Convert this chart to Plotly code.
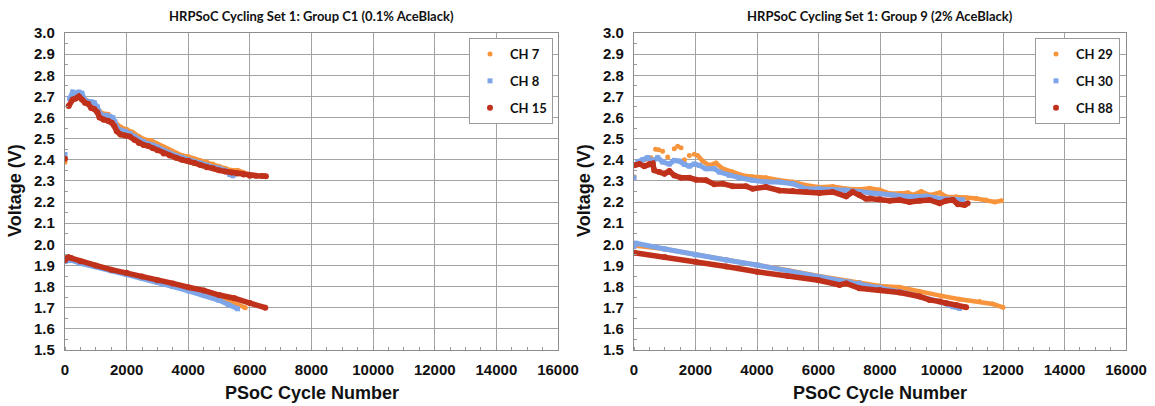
import plotly.graph_objects as go

# ---------------- Group C1 (0.1% AceBlack) ----------------
# End-of-charge voltage branch
c1_ch7_top_cyc = [0, 200, 400, 600, 800, 1000, 1200, 1400, 1600, 1800, 2000, 2200, 2400, 2600, 2800,
                  3000, 3200, 3400, 3600, 3800, 4000, 4200, 4400, 4600, 4800, 5000, 5200, 5400, 5600, 5800]
c1_ch7_top_v = [2.388, 2.69, 2.705, 2.69, 2.675, 2.65, 2.62, 2.615, 2.58, 2.555, 2.545, 2.53, 2.51, 2.495, 2.49,
                2.475, 2.46, 2.445, 2.43, 2.42, 2.415, 2.405, 2.395, 2.39, 2.38, 2.37, 2.36, 2.35, 2.35, 2.34]
c1_ch8_top_cyc = [0, 150, 250, 350, 450, 550, 650, 750, 850, 950, 1050, 1150, 1250, 1350, 1450, 1550, 1620,
                  1700, 1800, 1950, 2100, 2250, 2400, 2550, 2700, 2850, 3000, 3200, 3400, 3600, 3800, 4000,
                  4200, 4400, 4600, 4800, 5000, 5200, 5350, 5450, 5550]
c1_ch8_top_v = [2.425, 2.69, 2.72, 2.715, 2.72, 2.715, 2.68, 2.675, 2.675, 2.67, 2.65, 2.615, 2.61, 2.61, 2.605,
                2.60, 2.58, 2.55, 2.54, 2.535, 2.525, 2.51, 2.495, 2.485, 2.475, 2.47, 2.46, 2.445, 2.43, 2.42,
                2.41, 2.40, 2.39, 2.385, 2.375, 2.365, 2.36, 2.35, 2.33, 2.325, 2.335]
c1_ch15_top_cyc = [0, 120, 250, 350, 450, 550, 650, 750, 850, 950, 1050, 1120, 1250, 1400, 1520, 1600, 1680,
                   1800, 1950, 2100, 2250, 2400, 2550, 2700, 2850, 3000, 3200, 3400, 3600, 3800, 4000, 4200,
                   4400, 4600, 4800, 5000, 5200, 5400, 5600, 5800, 6000, 6200, 6400, 6520]
c1_ch15_top_v = [2.405, 2.655, 2.685, 2.69, 2.70, 2.685, 2.67, 2.665, 2.645, 2.64, 2.625, 2.60, 2.59, 2.585,
                 2.575, 2.56, 2.535, 2.52, 2.515, 2.51, 2.495, 2.48, 2.47, 2.465, 2.455, 2.445, 2.43, 2.42,
                 2.41, 2.40, 2.395, 2.385, 2.375, 2.365, 2.36, 2.35, 2.345, 2.34, 2.335, 2.33, 2.325, 2.325,
                 2.323, 2.322]
# End-of-discharge voltage branch
c1_ch7_bot_cyc = [0, 200, 500, 1000, 1500, 2000, 2500, 3000, 3500, 4000, 4500, 5000, 5400, 5850]
c1_ch7_bot_v = [1.93, 1.93, 1.915, 1.898, 1.878, 1.86, 1.843, 1.825, 1.805, 1.787, 1.768, 1.748, 1.73, 1.70]
c1_ch8_bot_cyc = [0, 200, 500, 1000, 1500, 2000, 2500, 3000, 3500, 4000, 4500, 5000, 5300, 5600]
c1_ch8_bot_v = [1.92, 1.925, 1.91, 1.895, 1.875, 1.857, 1.84, 1.82, 1.80, 1.78, 1.76, 1.735, 1.715, 1.695]
c1_ch15_bot_cyc = [0, 100, 200, 500, 1000, 1500, 2000, 2500, 3000, 3500, 4000, 4500, 5000, 5500, 6000, 6500]
c1_ch15_bot_v = [1.925, 1.94, 1.935, 1.92, 1.90, 1.88, 1.865, 1.848, 1.83, 1.815, 1.797, 1.782, 1.76, 1.745,
                 1.722, 1.70]

# ---------------- Group 9 (2% AceBlack) ----------------
g9_ch29_top_cyc = [0, 150, 350, 550, 700, 800, 930, 1095, 1310, 1420, 1530, 1640, 1800, 1960, 2070, 2233,
                   2450, 2665, 2885, 3210, 3535, 3860, 4290, 4725, 5160, 5595, 6030, 6460, 6900, 7330, 7660,
                   7990, 8320, 8640, 8910, 9070, 9340, 9610, 9940, 10150, 10480, 10800, 11130, 11450, 11730,
                   11950]
g9_ch29_top_v = [2.32, 2.39, 2.40, 2.41, 2.45, 2.448, 2.44, 2.413, 2.452, 2.464, 2.457, 2.40, 2.42, 2.426,
                 2.42, 2.394, 2.374, 2.385, 2.358, 2.342, 2.326, 2.32, 2.315, 2.303, 2.295, 2.28, 2.27, 2.274,
                 2.263, 2.26, 2.265, 2.257, 2.24, 2.24, 2.244, 2.233, 2.25, 2.233, 2.244, 2.225, 2.225, 2.222,
                 2.217, 2.21, 2.20, 2.206]
g9_ch30_top_cyc = [0, 120, 280, 445, 610, 770, 930, 1150, 1310, 1475, 1640, 1800, 1960, 2125, 2340, 2610,
                   2775, 3100, 3425, 3860, 4290, 4725, 5160, 5595, 6030, 6460, 6900, 7330, 7760, 7990, 8420,
                   8960, 9500, 9940, 10370, 10690]
g9_ch30_top_v = [2.315, 2.39, 2.40, 2.41, 2.394, 2.41, 2.39, 2.38, 2.397, 2.394, 2.378, 2.37, 2.38, 2.374,
                 2.358, 2.358, 2.342, 2.326, 2.315, 2.303, 2.295, 2.295, 2.287, 2.263, 2.263, 2.26, 2.256,
                 2.25, 2.24, 2.238, 2.233, 2.225, 2.228, 2.217, 2.213, 2.21]
g9_ch88_top_cyc = [10, 175, 335, 500, 610, 660, 825, 990, 1150, 1310, 1530, 1800, 2020, 2340, 2610, 2885,
                   3210, 3640, 3860, 4290, 4725, 5160, 5595, 6030, 6460, 6900, 7110, 7330, 7545, 7660, 7990,
                   8320, 8640, 8960, 9290, 9610, 9940, 10150, 10370, 10530, 10750, 10850]
g9_ch88_top_v = [2.374, 2.38, 2.37, 2.38, 2.382, 2.35, 2.342, 2.334, 2.347, 2.326, 2.315, 2.315, 2.306,
                 2.303, 2.284, 2.287, 2.275, 2.275, 2.263, 2.271, 2.255, 2.252, 2.248, 2.243, 2.248, 2.227,
                 2.248, 2.233, 2.216, 2.217, 2.213, 2.206, 2.21, 2.20, 2.206, 2.21, 2.194, 2.206, 2.21, 2.19,
                 2.186, 2.194]
g9_ch29_bot_cyc = [0, 1000, 2000, 3000, 4000, 5000, 6000, 7000, 7330, 7990, 8640, 9290, 10000, 10590, 11240,
                   11670, 12000]
g9_ch29_bot_v = [1.995, 1.978, 1.952, 1.928, 1.904, 1.877, 1.85, 1.825, 1.819, 1.803, 1.797, 1.776, 1.756,
                 1.74, 1.729, 1.718, 1.702]
g9_ch30_bot_cyc = [0, 70, 1000, 2000, 3000, 4000, 5000, 6000, 7000, 7330, 7990, 8640, 9290, 9940, 10370,
                   10590]
g9_ch30_bot_v = [1.99, 2.005, 1.978, 1.95, 1.926, 1.902, 1.875, 1.847, 1.822, 1.816, 1.797, 1.776, 1.753,
                 1.729, 1.705, 1.697]
g9_ch88_bot_cyc = [15, 1000, 2000, 3000, 4000, 5000, 6000, 6685, 6900, 7330, 7990, 8640, 9290, 9610, 9940,
                   10150, 10480, 10800]
g9_ch88_bot_v = [1.96, 1.94, 1.918, 1.895, 1.87, 1.85, 1.83, 1.808, 1.815, 1.792, 1.784, 1.772, 1.753, 1.737,
                 1.729, 1.721, 1.713, 1.702]

titles = ["HRPSoC Cycling Set 1: Group C1 (0.1% AceBlack)", "HRPSoC Cycling Set 1: Group 9 (2% AceBlack)"]
x_ticks = [0, 2000, 4000, 6000, 8000, 10000, 12000, 14000, 16000]

ORANGE = "#F7943C"
BLUE = "#7DA5E8"
RED = "#C0311B"

# name, colour, marker symbol, marker size, band width, top cycles/volts, bottom cycles/volts,
# cycle from which the charge branch is drawn as a band
panels = [
    dict(xa="x", ya="y", legend="legend", series=[
        ("CH 7", ORANGE, "circle", 5, 4.5, c1_ch7_top_cyc, c1_ch7_top_v, c1_ch7_bot_cyc, c1_ch7_bot_v, 100),
        ("CH 8", BLUE, "square", 5, 5, c1_ch8_top_cyc, c1_ch8_top_v, c1_ch8_bot_cyc, c1_ch8_bot_v, 100),
        ("CH 15", RED, "circle", 6, 5.5, c1_ch15_top_cyc, c1_ch15_top_v, c1_ch15_bot_cyc, c1_ch15_bot_v, 100),
    ]),
    dict(xa="x2", ya="y2", legend="legend2", series=[
        ("CH 29", ORANGE, "circle", 5, 4.5, g9_ch29_top_cyc, g9_ch29_top_v, g9_ch29_bot_cyc, g9_ch29_bot_v, 2000),
        ("CH 30", BLUE, "square", 5, 5, g9_ch30_top_cyc, g9_ch30_top_v, g9_ch30_bot_cyc, g9_ch30_bot_v, 100),
        ("CH 88", RED, "circle", 6, 5.5, g9_ch88_top_cyc, g9_ch88_top_v, g9_ch88_bot_cyc, g9_ch88_bot_v, 0),
    ]),
]

fig = go.Figure()
for p in panels:
    for name, col, sym, msize, lw, tc, tv, bc, bv, line_from in p["series"]:
        # continuous band through the dense data
        lx = [c for c in tc if c >= line_from] + [None] + bc
        ly = [v for c, v in zip(tc, tv) if c >= line_from] + [None] + bv
        fig.add_trace(go.Scatter(x=lx, y=ly, mode="lines", line=dict(color=col, width=lw),
                                 xaxis=p["xa"], yaxis=p["ya"], showlegend=False, hoverinfo="skip",
                                 legendgroup=name, legend=p["legend"]))
        fig.add_trace(go.Scatter(x=tc + [None] + bc, y=tv + [None] + bv, mode="markers", name=name,
                                 marker=dict(color=col, symbol=sym, size=msize, line=dict(width=0)),
                                 xaxis=p["xa"], yaxis=p["ya"], legendgroup=name, legend=p["legend"]))

TICKFONT = dict(family="Liberation Sans, Arial, sans-serif", size=15, color="#111111", weight="bold")
GRID = "#A3A3A3"

ax_common = dict(showgrid=True, gridcolor=GRID, gridwidth=1.2, showline=True, linecolor="#8C8C8C",
                 linewidth=1.2, mirror=True, zeroline=False, tickfont=TICKFONT, ticks="",
                 automargin=False, fixedrange=True)
x_common = dict(ax_common, range=[0, 16000], tickvals=x_ticks, tickformat="d", ticklabelstandoff=6,
                minor=dict(dtick=500, ticks="inside", ticklen=3, tickcolor="#9A9A9A", showgrid=False))
y_common = dict(ax_common, range=[1.5, 3.0], dtick=0.1, tick0=1.5, tickformat=".1f", ticklabelstandoff=6,
                minor=dict(dtick=0.05, ticks="inside", ticklen=3, tickcolor="#9A9A9A", showgrid=False))

W, H = 1155, 406
y_dom = [1 - 350 / H, 1 - 33 / H]
fig.update_layout(
    width=W, height=H, margin=dict(l=0, r=0, t=0, b=0),
    paper_bgcolor="white", plot_bgcolor="white",
    xaxis=dict(x_common, domain=[65 / W, 558 / W], anchor="y"),
    yaxis=dict(y_common, domain=y_dom, anchor="x"),
    xaxis2=dict(x_common, domain=[634 / W, 1126 / W], anchor="y2"),
    yaxis2=dict(y_common, domain=y_dom, anchor="x2"),
)

legend_style = dict(bgcolor="white", bordercolor="#9A9A9A", borderwidth=1, xanchor="right", yanchor="top",
                    font=dict(family="Lato, Open Sans, sans-serif", size=13, color="#111111", weight="bold"),
                    traceorder="grouped", tracegroupgap=7, itemwidth=30)
fig.update_layout(
    legend=dict(legend_style, x=553 / W, y=1 - 38 / H),
    legend2=dict(legend_style, x=1120 / W, y=1 - 38 / H),
)

TITLEFONT = dict(family="Lato, Open Sans, sans-serif", size=13, color="#111111", weight="bold")
AXFONT = dict(family="Liberation Sans, Arial, sans-serif", size=18, color="#111111", weight="bold")
for i, (x0, x1) in enumerate([(65, 558), (634, 1126)]):
    cx = (x0 + x1) / 2
    fig.add_annotation(text=titles[i], x=cx / W, y=1 - 16 / H, xref="paper", yref="paper",
                       showarrow=False, font=TITLEFONT, xanchor="center", yanchor="middle")
    fig.add_annotation(text="PSoC Cycle Number", x=cx / W, y=1 - 393 / H, xref="paper", yref="paper",
                       showarrow=False, font=AXFONT, xanchor="center", yanchor="middle")
    fig.add_annotation(text="Voltage (V)", x=(x0 - 50) / W, y=1 - 191 / H, xref="paper", yref="paper",
                       showarrow=False, font=AXFONT, textangle=-90, xanchor="center", yanchor="middle")

fig.write_html("out.html")
